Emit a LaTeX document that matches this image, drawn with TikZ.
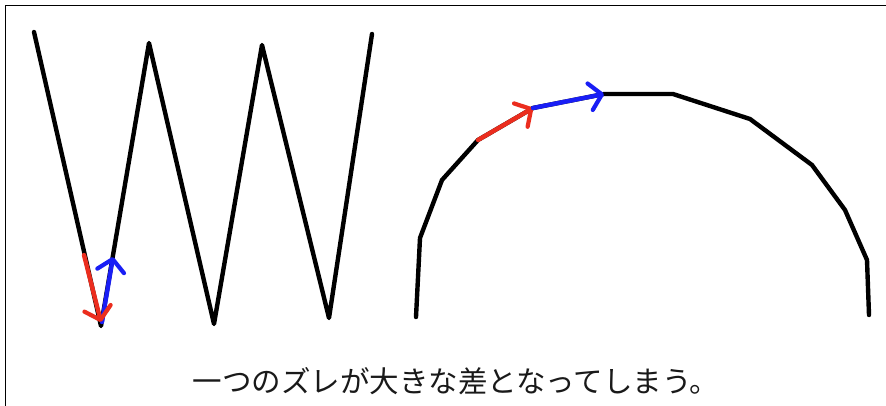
\documentclass[tikz,border=0pt]{standalone}
\usepackage{fontspec}
\newfontfamily\jpfont{Noto Sans CJK JP}
\usetikzlibrary{arrows.meta}
\definecolor{errred}{RGB}{235,45,30}
\definecolor{errblue}{RGB}{25,30,245}
\begin{document}
\begin{tikzpicture}[x=1pt,y=-1pt,
  curve/.style={line width=4.4pt,line join=round,line cap=round,black},
  errarrow/.style={line width=4.4pt,line cap=round,-{Straight Barb[length=12pt,width=27pt,round,line width=4.2pt]}},
  frameline/.style={line width=1.8pt,black},
  caption/.style={font=\jpfont\fontsize{29.5}{33}\selectfont,text=black!90,inner sep=0pt}]
\useasboundingbox (0,0) rectangle (886,405);
% frame
\draw[frameline] (5.5,406) -- (5.5,5.5) -- (887,5.5);
% zigzag
\coordinate (w1) at (34,32);
\coordinate (w2) at (101,326);
\coordinate (w3) at (149,43);
\coordinate (w4) at (214,324);
\coordinate (w5) at (262,45);
\coordinate (w6) at (329,318);
\coordinate (w7) at (372,34);
\draw[curve] (w1) -- (w2) -- (w3) -- (w4) -- (w5) -- (w6) -- (w7);
% arrows on zigzag
\coordinate (b0) at (102,322);
\coordinate (b1) at (113,257);
\coordinate (r0) at (84,255);
\coordinate (r1) at (101,322);
\draw[errarrow,errblue] (b0) -- (b1);
\draw[errarrow,errred] (r0) -- (r1);
% arc polyline
\coordinate (a1) at (416,317);
\coordinate (a2) at (420,238);
\coordinate (a3) at (442,180);
\coordinate (a4) at (478,140);
\coordinate (a5) at (533,108);
\coordinate (a6) at (604,94);
\coordinate (a7) at (673,94);
\coordinate (a8) at (750,119);
\coordinate (a9) at (812,165);
\coordinate (a10) at (845,210);
\coordinate (a11) at (867,260);
\coordinate (a12) at (869,315);
\draw[curve] (a1) -- (a2) -- (a3) -- (a4) -- (a5) -- (a6) -- (a7) -- (a8) -- (a9) -- (a10) -- (a11) -- (a12);
\draw[errarrow,errred] (a4) -- (a5);
\draw[errarrow,errblue] (a5) -- (a6);
% caption
\node[caption] (cap) at (456,381) {一つのズレが大きな差となってしまう。};
\end{tikzpicture}
\end{document}
